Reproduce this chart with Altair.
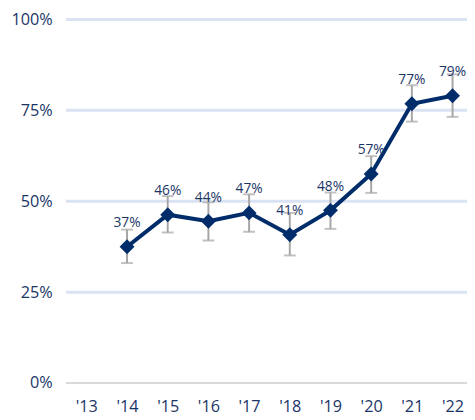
import altair as alt
import pandas as pd

years = [2014, 2015, 2016, 2017, 2018, 2019, 2020, 2021, 2022]
values = [37.5, 46.3, 44.5, 46.8, 40.8, 47.5, 57.5, 76.8, 79.0]
labels = ["37%", "46%", "44%", "47%", "41%", "48%", "57%", "77%", "79%"]
low = [33.0, 41.4, 39.2, 41.6, 35.1, 42.4, 52.3, 71.9, 73.2]
high = [42.2, 51.4, 49.7, 51.9, 46.8, 52.4, 62.4, 81.9, 84.9]
tick_years = [2013, 2014, 2015, 2016, 2017, 2018, 2019, 2020, 2021, 2022]
y_ticks = [0, 25, 50, 75, 100]

df = pd.DataFrame({"year": years, "value": values, "label": labels, "low": low, "high": high})

NAVY = "#002D6A"
TEXT = "#1B3566"
FONT = "Open Sans"

x = alt.X("year:Q", scale=alt.Scale(domain=[2012.5, 2022.355], nice=False, zero=False),
          axis=alt.Axis(values=tick_years, labelExpr="\"'\" + substring(toString(datum.value), 2)",
                        title=None, grid=False, ticks=False, domain=False, labelFont=FONT,
                        labelFontSize=16.5, labelColor=TEXT, labelPadding=16, labelFlush=False,
                        labelOverlap=False))
yscale = alt.Scale(domain=[0, 100], nice=False)

grid_df = pd.DataFrame({"g": [25, 50, 75, 100]})
grid = alt.Chart(grid_df).mark_rule(color="#DAE3F3", strokeWidth=3).encode(
    y=alt.Y("g:Q", scale=yscale,
            axis=alt.Axis(values=y_ticks, labelExpr="datum.value + '%'", title=None, grid=False,
                          ticks=False, domain=False, labelFont=FONT, labelFontSize=16.5,
                          labelColor=TEXT, labelPadding=14)),
    x=alt.value(0), x2=alt.value(420))
zero = alt.Chart(pd.DataFrame({"g": [0]})).mark_rule(color="#D9D9D9", strokeWidth=2).encode(
    y=alt.Y("g:Q", scale=yscale), x=alt.value(0), x2=alt.value(420))

base = alt.Chart(df)
err = base.mark_rule(color="#A6A6A6", strokeWidth=2).encode(
    x=x, y=alt.Y("low:Q", scale=yscale), y2="high:Q")
cap_lo = base.mark_tick(color="#A6A6A6", orient="horizontal", size=12, thickness=2).encode(
    x=x, y=alt.Y("low:Q", scale=yscale))
cap_hi = base.mark_tick(color="#A6A6A6", orient="horizontal", size=12, thickness=2).encode(
    x=x, y=alt.Y("high:Q", scale=yscale))
line = base.mark_line(color=NAVY, strokeWidth=4).encode(x=x, y=alt.Y("value:Q", scale=yscale))
pts = base.mark_point(shape="diamond", size=230, filled=True, color=NAVY, opacity=1).encode(
    x=x, y=alt.Y("value:Q", scale=yscale))
txt = base.mark_text(font=FONT, fontSize=14, color=TEXT, dy=-24, baseline="middle").encode(
    x=x, y=alt.Y("value:Q", scale=yscale), text="label:N")

chart = alt.layer(grid, zero, err, cap_lo, cap_hi, line, pts, txt).properties(
    width=408, height=370,
    autosize=alt.AutoSizeParams(type="none"),
    padding={"left": 59, "top": 8, "right": 0, "bottom": 36},
).configure_view(stroke=None)

chart.save("out.html", embed_options={"renderer": "svg", "actions": False})
